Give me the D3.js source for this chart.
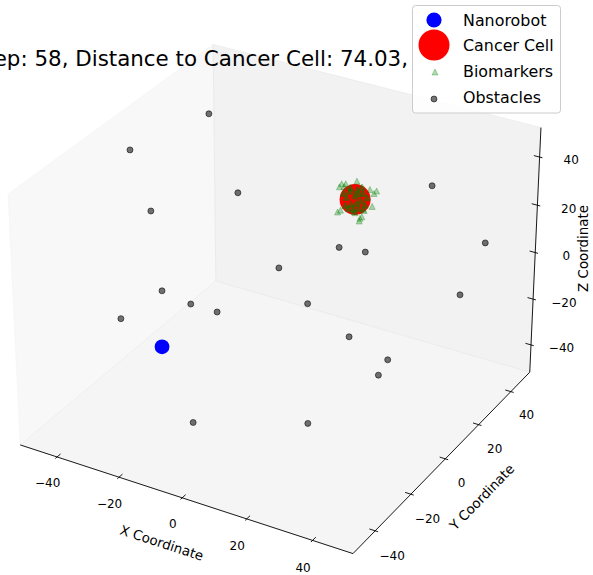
<!DOCTYPE html>
<html>
<head>
<meta charset="utf-8">
<script src="https://cdn.jsdelivr.net/npm/d3@7"></script>
<style>
body { margin: 0; background: #fff; }
svg { display: block; font-family: "DejaVu Sans", sans-serif; }
</style>
</head>
<body>
<div id="chart"></div>
<script>
// values
const axisTicks = [-40, -20, 0, 20, 40];
const axisLimits = [-50, 50];

const obstacleX = [-34.2, -44.3, -34.0, -34.8, 25.5, 42.4, 12.9, 2.2, -14.7, -38.1, -38.0, -4.9, -39.0, -2.5, 32.7, 24.5, 28.5, 36.3, -9.9, 17.5];
const obstacleY = [20, -5, 35, -10, 40, 40, 10, 45, 25, 0, 15, -25, -20, 20, 45, -5, 10, -10, -30, -15];
const obstacleZ = [47.3, 43.8, 4.9, 25.1, 26.1, 8.3, 14.8, -13.9, -14.1, -16.4, -32.2, 4.4, -15.2, -21.6, -20.9, -8.0, -26.6, -15.8, -40.7, -40.5];

const nanorobot = [-17.5, -33, -9.6];
const cancerCell = [6.8, 30, 19.9];

const biomarkerX = [2.5, 1.8, 3.8, 7.3, 11.4, 13.5, 12.2, 1.3, 2.2, 8.4, 9.0, 8.2, 12.7, 3.3,
    4.9, 7.4, 9.4, 3.9, 6.8, 8.7, 5.5, 10.0, 6.2, 8.1, 3.6, 10.7, 5.2, 9.0, 7.1, 4.6, 7.8, 9.7, 3.0, 6.8,
    5.2, 7.6, 9.1, 4.2, 6.5, 8.4, 5.8, 9.7, 6.5, 7.8, 3.9, 10.4, 5.5, 8.7, 7.4, 4.9, 7.5, 9.4, 3.3, 6.5];
const biomarkerY = biomarkerX.map(() => 30);
const biomarkerZ = [24.9, 23.4, 25.4, 27.7, 25.7, 25.8, 18.9, 12.6, 13.7, 12.5, 13.4, 11.3, 24.5, 24.1,
    22.6, 24.4, 23.5, 19.6, 21.2, 19.8, 17.7, 18.6, 15.4, 16.5, 16.1, 22.2, 24.4, 25.9, 18.3, 15.2, 22.8, 16.3, 21.0, 14.3,
    22.9, 24.0, 23.2, 19.9, 21.5, 20.2, 17.3, 18.9, 15.8, 16.8, 16.5, 21.8, 24.0, 25.5, 18.7, 15.6, 22.4, 16.7, 21.4, 14.7];

const legendLabels = ["Nanorobot", "Cancer Cell", "Biomarkers", "Obstacles"];
const titleText = "Step: 58, Distance to Cancer Cell: 74.03,";
const axisNames = ["X Coordinate", "Y Coordinate", "Z Coordinate"];

const width = 593, height = 575;

// matplotlib style 3d view: elev 30, azim -60, box aspect 4:4:3
const elev = 30 * Math.PI / 180, azim = -60 * Math.PI / 180, dist = 10;
const boxAspect = [4, 4, 3].map(a => a * 1.8294640721620434 / Math.sqrt(41));
const pad = (axisLimits[1] - axisLimits[0]) / 48;
const lo = axisLimits[0] - pad, hi = axisLimits[1] + pad;

const nx = d3.scaleLinear().domain(axisLimits).range([-boxAspect[0] / 2, boxAspect[0] / 2]);
const ny = d3.scaleLinear().domain(axisLimits).range([-boxAspect[1] / 2, boxAspect[1] / 2]);
const nz = d3.scaleLinear().domain(axisLimits).range([-boxAspect[2] / 2, boxAspect[2] / 2]);

const dot = (a, b) => a[0] * b[0] + a[1] * b[1] + a[2] * b[2];
const cross = (a, b) => [a[1] * b[2] - a[2] * b[1], a[2] * b[0] - a[0] * b[2], a[0] * b[1] - a[1] * b[0]];
const w = [Math.cos(elev) * Math.cos(azim), Math.cos(elev) * Math.sin(azim), Math.sin(elev)];
let u = cross([0, 0, 1], w);
const ul = Math.hypot(...u);
u = u.map(c => c / ul);
const v = cross(w, u);

const screenX = d3.scaleLinear().domain([0, 1]).range([279.7, 279.7 + 3202]);
const screenY = d3.scaleLinear().domain([0, 1]).range([286.8, 286.8 - 3202]);

function project(p) {
    let d = [nx(p[0]), ny(p[1]), nz(p[2])];
    let den = dist - dot(w, d);
    return [screenX(dot(u, d) / den), screenY(dot(v, d) / den)];
}

const svg = d3.select("#chart").append("svg")
    .attr("width", width)
    .attr("height", height);

// panes
const panes = [
    {pts: [[lo, lo, lo], [lo, hi, lo], [lo, hi, hi], [lo, lo, hi]], c: 0.95},
    {pts: [[lo, hi, lo], [hi, hi, lo], [hi, hi, hi], [lo, hi, hi]], c: 0.90},
    {pts: [[lo, lo, lo], [hi, lo, lo], [hi, hi, lo], [lo, hi, lo]], c: 0.925}
];
const line = d3.line();
svg.append("g").selectAll("path").data(panes)
    .join("path")
        .attr("d", d => line(d.pts.map(project)) + "Z")
        .attr("fill", d => d3.rgb(d.c * 255, d.c * 255, d.c * 255, 0.5))
        .attr("stroke", d => d3.rgb(d.c * 255, d.c * 255, d.c * 255, 0.5))
        .attr("stroke-width", 1);

// axes: edge, tick direction, label offsets
const tickIn = 1.74, tickOut = 0.87;
const axes = [
    {edge: t => [t, lo, lo], tick: (t, s) => [t, lo + s, lo], label: t => [t, lo - 5, lo - 7.5], title: [0, lo - 10.7, lo - 11]},
    {edge: t => [hi, t, lo], tick: (t, s) => [hi - s, t, lo], label: t => [hi + 5.2, t, lo - 8.4], title: [hi + 11.5, 0, lo - 11.6]},
    {edge: t => [hi, hi, t], tick: (t, s) => [hi - s, hi, t], label: t => [hi + 8.3, hi + 2.6, t], title: [hi + 10.6, hi + 8.8, 0]}
];
const fmt = t => t < 0 ? "\u2212" + Math.abs(t) : String(t);

axes.forEach((a, i) => {
    let g = svg.append("g");
    let p0 = project(a.edge(lo)), p1 = project(a.edge(hi));
    g.append("line")
        .attr("x1", p0[0]).attr("y1", p0[1])
        .attr("x2", p1[0]).attr("y2", p1[1])
        .attr("stroke", "#000").attr("stroke-width", 0.9);
    g.selectAll(".tick").data(axisTicks)
        .join("line")
            .attr("class", "tick")
            .attr("x1", t => project(a.tick(t, tickIn))[0])
            .attr("y1", t => project(a.tick(t, tickIn))[1])
            .attr("x2", t => project(a.tick(t, -tickOut))[0])
            .attr("y2", t => project(a.tick(t, -tickOut))[1])
            .attr("stroke", "#000").attr("stroke-width", 0.9);
    g.selectAll(".ticklabel").data(axisTicks)
        .join("text")
            .attr("class", "ticklabel")
            .attr("x", t => project(a.label(t))[0])
            .attr("y", t => project(a.label(t))[1])
            .attr("text-anchor", "middle")
            .attr("dominant-baseline", "central")
            .attr("font-size", "12px")
            .text(fmt);
    let angle = Math.atan2(p1[1] - p0[1], p1[0] - p0[0]) * 180 / Math.PI;
    if (angle < -80) angle = -90; // z label reads straight up
    let tp = project(a.title);
    g.append("text")
        .attr("transform", `translate(${tp[0]},${tp[1]}) rotate(${angle})`)
        .attr("text-anchor", "middle")
        .attr("dominant-baseline", "central")
        .attr("font-size", "13.4px")
        .text(axisNames[i]);
});

// markers
const trianglePath = h => `M0,${-h}L${h},${h}L${-h},${h}Z`;

function drawObstacle(g, x, y) {
    g.append("circle").attr("cx", x).attr("cy", y).attr("r", 3)
        .attr("fill", "#000").attr("fill-opacity", 0.55)
        .attr("stroke", "#000").attr("stroke-opacity", 0.55).attr("stroke-width", 1);
}
function drawBiomarker(g, x, y) {
    g.append("path").attr("d", trianglePath(3))
        .attr("transform", `translate(${x},${y})`)
        .attr("fill", "#008000").attr("fill-opacity", 0.3)
        .attr("stroke", "#008000").attr("stroke-opacity", 0.3).attr("stroke-width", 1);
}

const marks = svg.append("g");
obstacleX.forEach((x, i) => {
    let p = project([x, obstacleY[i], obstacleZ[i]]);
    drawObstacle(marks, p[0], p[1]);
});
let rp = project(nanorobot);
marks.append("circle").attr("cx", rp[0]).attr("cy", rp[1]).attr("r", 7.4).attr("fill", "#0000ff");
let cp = project(cancerCell);
marks.append("circle").attr("cx", cp[0]).attr("cy", cp[1]).attr("r", 15.5).attr("fill", "#ff0000");
biomarkerX.forEach((x, i) => {
    let p = project([x, biomarkerY[i], biomarkerZ[i]]);
    drawBiomarker(marks, p[0], p[1]);
});

// title (runs off the left edge, as in the reference)
svg.append("text")
    .attr("x", 408).attr("y", 58)
    .attr("text-anchor", "end")
    .attr("dominant-baseline", "central")
    .attr("font-size", "21.4px")
    .text(titleText);

// legend
const legend = svg.append("g");
legend.append("rect")
    .attr("x", 412.5).attr("y", 5.5).attr("width", 148).attr("height", 107.5)
    .attr("rx", 3)
    .attr("fill", "#fff").attr("fill-opacity", 0.8)
    .attr("stroke", "#ccc").attr("stroke-width", 1);
const legendRows = [20, 45, 71, 97];
const markerX = 434;
legend.append("circle").attr("cx", markerX).attr("cy", legendRows[0]).attr("r", 7.6).attr("fill", "#0000ff");
legend.append("circle").attr("cx", markerX).attr("cy", legendRows[1]).attr("r", 15.5).attr("fill", "#ff0000");
drawBiomarker(legend, markerX + 1, legendRows[2] + 1);
drawObstacle(legend, markerX, legendRows[3] + 2);
legend.selectAll(".lab").data(legendLabels)
    .join("text")
        .attr("class", "lab")
        .attr("x", 463)
        .attr("y", (d, i) => legendRows[i])
        .attr("dominant-baseline", "central")
        .attr("font-size", "15.9px")
        .text(d => d);
</script>
</body>
</html>
